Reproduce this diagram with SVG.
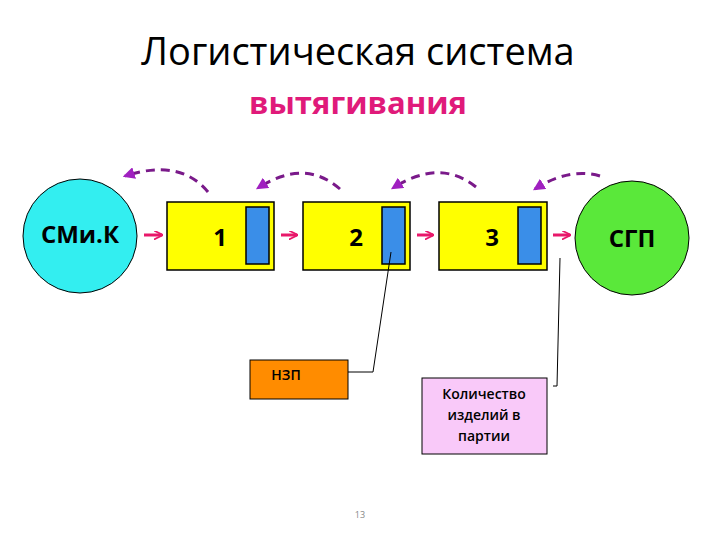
<svg xmlns="http://www.w3.org/2000/svg" width="720" height="540" viewBox="0 0 720 540">
<defs>
<style>
text{font-family:"Open Sans","Liberation Sans",sans-serif;text-anchor:middle}
.box{fill:#ffff00;stroke:#000;stroke-width:1.5}
.blue{fill:#3a8ee8;stroke:#000;stroke-width:1.5}
.fw{stroke:#e8186a;stroke-width:3;fill:none;marker-end:url(#ah)}
.bk{stroke:#7a1a8a;stroke-width:3;fill:none;stroke-dasharray:9,6;marker-end:url(#dh)}
.ln{stroke:#000;stroke-width:1;fill:none}
.lbl{font-size:24px;font-weight:bold}
.sm{font-size:14px;font-weight:600}
</style>
<marker id="ah" viewBox="0 0 10 10" refX="9" refY="5" markerWidth="3" markerHeight="3" orient="auto"><path d="M0,0L10,5L0,10" fill="none" stroke="#e8186a" stroke-width="2"/></marker>
<marker id="dh" viewBox="0 0 10 10" refX="8" refY="5" markerWidth="4" markerHeight="4" orient="auto"><path d="M0,0L10,5L0,10z" fill="#a020c0"/></marker>
</defs>
<text x="358" y="65" font-size="38">Логистическая система</text>
<text x="358" y="114" font-size="31" font-weight="bold" fill="#e01a7a">вытягивания</text>
<g id="smik"><circle cx="80" cy="236" r="57" fill="#33eef0" stroke="#000"/><text x="80" y="243" class="lbl" font-size="22">СМи.К</text></g>
<g id="b1"><rect x="167" y="202" width="107" height="68" class="box"/><rect x="246" y="207" width="23" height="57" class="blue"/><text x="220" y="246" class="lbl">1</text></g>
<g id="b2"><rect x="303" y="202" width="107" height="68" class="box"/><rect x="382" y="207" width="23" height="57" class="blue"/><text x="356" y="246" class="lbl">2</text></g>
<g id="b3"><rect x="439" y="202" width="108" height="68" class="box"/><rect x="518" y="207" width="23" height="57" class="blue"/><text x="492" y="246" class="lbl">3</text></g>
<g id="sgp"><circle cx="632" cy="238" r="57" fill="#5ae83a" stroke="#000"/><text x="632" y="247" class="lbl">СГП</text></g>
<g id="nzp"><rect x="250" y="360" width="98" height="39" fill="#ff8c00" stroke="#000"/><text x="286" y="380" class="sm">НЗП</text></g>
<g id="kol"><rect x="422" y="378" width="125" height="76" fill="#f9c9f9" stroke="#000"/><text x="484" y="399" class="sm">Количество</text><text x="484" y="420" class="sm">изделий в</text><text x="484" y="441" class="sm">партии</text></g>
<g id="connectors">
<path class="fw" d="M144,235H162"/><path class="fw" d="M281,235H297"/><path class="fw" d="M417,235H433"/><path class="fw" d="M553,235H570"/>
<path class="bk" d="M208,192Q180,158 125,176"/>
<path class="bk" d="M340,189Q305,158 258,188"/>
<path class="bk" d="M476,187Q440,158 393,188"/>
<path class="bk" d="M600,176Q570,167 535,189"/>
<path class="ln" d="M348,372H373L391,252"/>
<path class="ln" d="M553,386H557L560,258"/>
</g>
<text x="360" y="518" font-size="9" fill="#888">13</text>
</svg>
